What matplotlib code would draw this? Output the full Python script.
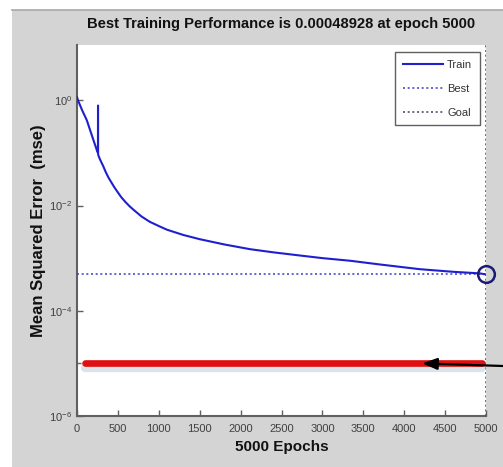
import numpy as np
import matplotlib.pyplot as plt
import matplotlib.patheffects as pe
from matplotlib.patches import Rectangle
from matplotlib.lines import Line2D

plt.rcParams["font.family"] = ["Liberation Sans", "DejaVu Sans"]
plt.rcParams["mathtext.fontset"] = "custom"
plt.rcParams["mathtext.rm"] = "Liberation Sans"

# training record (epoch, log10 of mse)
epochs = [0, 12, 60, 120, 180, 245, 256, 257, 258, 262, 280, 320, 350, 385, 420,
          455, 490, 540, 590, 640, 690, 790, 890, 1000, 1100, 1300, 1500, 1800,
          2115, 2400, 2725, 3000, 3340, 3700, 4190, 4600, 4925, 5000]
log_mse = [0.06, 0.0, -0.18, -0.38, -0.66, -0.96, -1.0, -0.1, -1.02, -1.05, -1.12,
           -1.25, -1.36, -1.47, -1.56, -1.65, -1.73, -1.84, -1.93, -2.01, -2.08,
           -2.21, -2.31, -2.39, -2.46, -2.56, -2.64, -2.74, -2.83, -2.89, -2.95,
           -3.00, -3.05, -3.12, -3.21, -3.26, -3.29, -3.31]
mse = [10 ** v for v in log_mse]

best_epoch = 5000
best_perf = 0.00048928
goal = 1e-5
goal_span = [100, 4950]

xticks = list(range(0, 5001, 500))
yticks = [1, 1e-2, 1e-4, 1e-6]
ytick_labels = [r"$10^{0}$", r"$10^{-2}$", r"$10^{-4}$", r"$10^{-6}$"]

W, H = 503, 467
fig = plt.figure(figsize=(W / 100, H / 100), dpi=100)
fig.patch.set_facecolor("white")

# grey window background
fig.patches.append(Rectangle((12 / W, 0), 1 - 12 / W, 1 - 10 / H,
                             transform=fig.transFigure, facecolor="#d4d4d4",
                             edgecolor="none", zorder=-2))
fig.lines.append(Line2D([12 / W, 1], [1 - 10 / H, 1 - 10 / H],
                        transform=fig.transFigure, color="#a8a8a8", lw=1.2))

ax = fig.add_axes([77 / W, 1 - 416 / H, (486 - 77) / W, (416 - 45) / H])
ax.set_facecolor("white")
ax.set_yscale("log")
ax.set_xlim(0, 5000)
ax.set_ylim(1e-6, 10 ** 1.05)

ax.plot(epochs, mse, color="#1f1fd0", lw=1.5, label="Train", zorder=4)
ax.plot([0, 5000], [best_perf, best_perf], color="#4a4ac8", lw=1.2,
        ls=(0, (1.2, 1.6)), label="Best", zorder=3)
ax.axvline(best_epoch, color="#505070", lw=1.2, ls=(0, (1.2, 1.6)),
           label="Goal", zorder=3)
ax.plot([best_epoch], [best_perf], marker="o", ms=12, mfc="none",
        mec="#1a1a7a", mew=1.8, clip_on=False, zorder=5)

# goal level, highlighted
ax.plot(goal_span, [goal, goal], color="#e01010", lw=4.8, solid_capstyle="round",
        zorder=4,
        path_effects=[pe.SimpleLineShadow(offset=(0, -3), shadow_color="#9fb4c2",
                                          alpha=0.35, linewidth=6),
                      pe.Normal()])

ax.annotate("", xy=(4220, goal), xycoords="data",
            xytext=(1.0, 1 - 366 / H), textcoords="figure fraction",
            arrowprops=dict(arrowstyle="-|>,head_length=0.9,head_width=0.35",
                            color="black", lw=1.6, shrinkA=0, shrinkB=0),
            annotation_clip=False, zorder=7)

for s in ["top", "right"]:
    ax.spines[s].set_visible(False)
for s in ["left", "bottom"]:
    ax.spines[s].set_color("#606060")
    ax.spines[s].set_linewidth(1.5)

ax.set_xticks(xticks)
ax.set_yticks(yticks)
ax.set_yticklabels(ytick_labels)
ax.set_yticks([goal], minor=True)
ax.set_yticklabels([""], minor=True)
ax.tick_params(axis="both", which="both", direction="in", length=4,
               color="#606060", labelsize=8, labelcolor="#404040", width=1)
ax.tick_params(axis="y", which="minor", length=3)
ax.tick_params(axis="x", pad=6)

ax.set_title("Best Training Performance is 0.00048928 at epoch 5000",
             fontsize=10.6, fontweight="bold", color="#111111", pad=12)
ax.set_xlabel("5000 Epochs", fontsize=11, fontweight="bold", color="#111111",
              labelpad=4)
ax.set_ylabel("Mean Squared Error  (mse)", fontsize=12, fontweight="bold",
              color="#111111", labelpad=2)

leg = ax.legend(loc="upper right", bbox_to_anchor=(480 / W, 1 - 52 / H),
                bbox_transform=fig.transFigure, borderaxespad=0, fontsize=8,
                handlelength=3.6, handletextpad=0.4, labelspacing=1.25,
                fancybox=False, framealpha=1, edgecolor="#606060",
                borderpad=0.7)
leg.get_frame().set_linewidth(1.0)
for t in leg.get_texts():
    t.set_color("#333333")

fig.savefig("out.png", dpi=100)
